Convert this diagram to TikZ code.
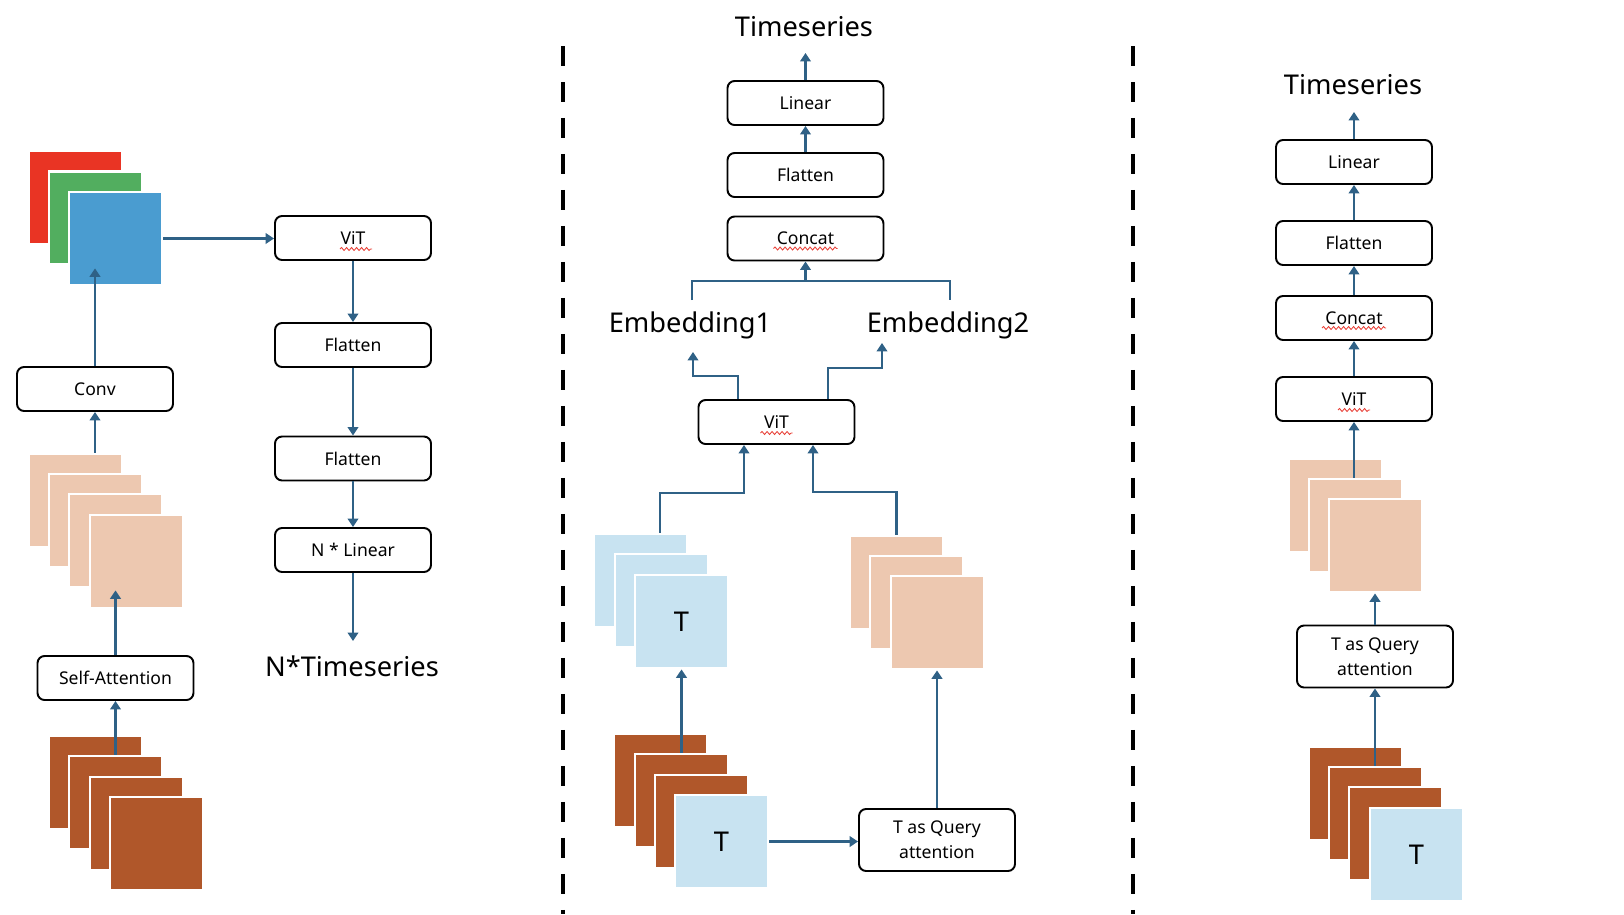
\documentclass[tikz,border=0pt]{standalone}
\usepackage{fontspec}
\setmainfont{Noto Sans}
\usetikzlibrary{calc}
\usetikzlibrary{arrows.meta}
\usetikzlibrary{decorations.pathmorphing}

\definecolor{flowblue}{HTML}{2F6186}
\definecolor{rgbred}{HTML}{E93424}
\definecolor{rgbgreen}{HTML}{52AE5F}
\definecolor{rgbblue}{HTML}{4A9CD0}
\definecolor{peach}{HTML}{EDC8B0}
\definecolor{rust}{HTML}{B0572A}
\definecolor{skyblue}{HTML}{C8E3F1}
\definecolor{squig}{HTML}{E8433A}

\begin{document}
\begin{tikzpicture}[
     x=0.02cm, y=-0.02cm,
     blk/.style={draw, line width=1.1pt, rounded corners=4pt, minimum width=3.12cm,
       minimum height=0.88cm, inner sep=0pt, font=\fontsize{10}{14}\selectfont},
     tall/.style={blk, minimum height=1.24cm, align=center},
     sq/.style={draw=white, line width=1.6pt, minimum size=1.86cm, inner sep=0pt,
       font=\fontsize{15.5}{18}\selectfont},
     big/.style={font=\fontsize{15.5}{18}\selectfont, inner sep=0pt},
     flow/.style={draw=flowblue, line width=1.5pt, -{Triangle[length=4.8pt,width=6pt]}},
     link/.style={draw=flowblue, line width=1.5pt},
     spell/.style={draw=squig, line width=0.5pt, decorate,
       decoration={snake, segment length=0.1cm, amplitude=0.03cm}},
     sep/.style={line width=2.8pt, dash pattern=on 0.4cm off 0.32cm}
   ]
   \useasboundingbox (0,0) rectangle (1624,914);
   % Separators.
   \draw[sep] (563,46) -- (563,914);
   \draw[sep] (1133,46) -- (1133,914);

   % Left panel.
   \node[sq, fill=rgbred] (rgbr) at (75.5,197.5) {};
   \node[sq, fill=rgbgreen] (rgbg) at (95.5,218) {};
   \node[sq, fill=rgbblue] (rgbb) at (115.5,238.5) {};
   \node[blk] (conv) at (95,389) {Conv};
   \foreach \i/\x/\y in {1/75.5/500.5, 2/95.5/520.5, 3/115.5/540.5, 4/136.5/561.5}
     \node[sq, fill=peach] (lpe\i) at (\x,\y) {};
   \node[blk] (sa) at (115.5,678) {Self-Attention};
   \foreach \i/\x/\y in {1/95.5/782.5, 2/115.5/802.5, 3/136.5/823.5, 4/156.5/843.5}
     \node[sq, fill=rust] (lbr\i) at (\x,\y) {};
   \node[blk] (vit1) at (353,238) {ViT};
   \node[blk] (flat1) at (353,345) {Flatten};
   \node[blk] (flat2) at (353,458.5) {Flatten};
   \node[blk] (nlin) at (353,550) {N * Linear};
   \coordinate (nout) at (353,641);
   \node[big] (nts) at (352,666) {N*Timeseries};
   \draw[flow] (sa.north |- lbr2.north) -- (sa.south);
   \draw[flow] (sa.north) -- ($(sa.north |- lpe4.south)+(0,-19)$);
   \draw[flow] (conv.south |- lpe1.north) -- (conv.south);
   \draw[flow] (conv.north) -- ($(conv.north |- rgbb.south)+(0,-18)$);
   \draw[flow] (rgbb.east) -- (rgbb.east -| vit1.west);
   \draw[flow] (vit1) -- (flat1);
   \draw[flow] (flat1) -- (flat2);
   \draw[flow] (flat2) -- (nlin);
   \draw[flow] (nlin) -- (nout);
   \draw[spell] ($(vit1.center)+(-13,11)$) -- ++(32,0);

   % Middle panel.
   \node[big] (ts1) at (804,27) {Timeseries};
   \coordinate (top1) at (805.5,53);
   \node[blk] (lin2) at (805.5,103) {Linear};
   \node[blk] (flat3) at (805.5,175) {Flatten};
   \node[blk] (cat2) at (805.5,238.5) {Concat};
   \coordinate (join) at (805.5,281);
   \coordinate (e1top) at (692,300);
   \coordinate (e2top) at (950,300);
   \node[big] (emb1) at (690,325) {Embedding1};
   \node[big] (emb2) at (948,325) {Embedding2};
   \coordinate (e1in) at (693,352);
   \coordinate (e2in) at (882,343);
   \node[blk] (vit2) at (776.5,422) {ViT};
   \foreach \i/\x/\y in {1/640.5/580.5, 2/661.5/600.5}
     \node[sq, fill=skyblue] (mtb\i) at (\x,\y) {};
   \node[sq, fill=skyblue] (mtb3) at (681.5,621.5) {T};
   \foreach \i/\x/\y in {1/896.5/582.5, 2/916.5/602.5, 3/937.5/622.5}
     \node[sq, fill=peach] (mpe\i) at (\x,\y) {};
   \foreach \i/\x/\y in {1/660.5/780.5, 2/681.5/800.5, 3/701.5/821.5}
     \node[sq, fill=rust] (mbr\i) at (\x,\y) {};
   \node[sq, fill=skyblue] (mt) at (721.5,841.5) {T};
   \node[tall] (tq1) at (937,840) {T as Query\\attention};
   \draw[flow] (lin2) -- (top1);
   \draw[flow] (flat3) -- (lin2);
   \draw[link] (e1top) |- (join) -| (e2top);
   \draw[flow] (join) -- (cat2.south);
   \draw[flow] ($(vit2.north)+(-38.5,0)$) -- ++(0,-23) -| (e1in);
   \draw[flow] ($(vit2.north)+(51.5,0)$) -- ++(0,-31) -| (e2in);
   \draw[flow] ($(mtb1.north)+(19.5,0)$) |- ($(vit2.south)+(-32.5,48)$) -- ($(vit2.south)+(-32.5,0)$);
   \draw[flow] (mpe1.north) |- ($(vit2.south)+(36.5,47)$) -- ($(vit2.south)+(36.5,0)$);
   \draw[flow] (mtb3.south |- mbr2.north) -- (mtb3.south);
   \draw[flow] (mt.east) -- (mt.east -| tq1.west);
   \draw[flow] (tq1.north) -- (tq1.north |- mpe3.south);
   \draw[spell] ($(vit2.center)+(-16,11)$) -- ++(32,0);
   \draw[spell] ($(cat2.center)+(-32,10)$) -- ++(64,0);

   % Right panel.
   \node[big] (ts2) at (1353,85) {Timeseries};
   \coordinate (top2) at (1354,112);
   \node[blk] (lin3) at (1354,162) {Linear};
   \node[blk] (flat4) at (1354,243) {Flatten};
   \node[blk] (cat3) at (1354,318) {Concat};
   \node[blk] (vit3) at (1354,399) {ViT};
   \foreach \i/\x/\y in {1/1335.5/505.5, 2/1355.5/525.5, 3/1375.5/545.5}
     \node[sq, fill=peach] (rpe\i) at (\x,\y) {};
   \node[tall] (tq2) at (1375,656.5) {T as Query\\attention};
   \foreach \i/\x/\y in {1/1355.5/793.5, 2/1375.5/813.5, 3/1395.5/833.5}
     \node[sq, fill=rust] (rbr\i) at (\x,\y) {};
   \node[sq, fill=skyblue] (rt) at (1416.5,854.5) {T};
   \draw[flow] (lin3) -- (top2);
   \draw[flow] (flat4) -- (lin3);
   \draw[flow] (cat3) -- (flat4);
   \draw[flow] (vit3) -- (cat3);
   \draw[flow] (vit3.south |- rpe2.north) -- (vit3.south);
   \draw[flow] (tq2.north) -- (tq2.north |- rpe3.south);
   \draw[flow] (tq2.south |- rbr2.north) -- (tq2.south);
   \draw[spell] ($(vit3.center)+(-16,11)$) -- ++(32,0);
   \draw[spell] ($(cat3.center)+(-32,10)$) -- ++(64,0);
\end{tikzpicture}
\end{document}
